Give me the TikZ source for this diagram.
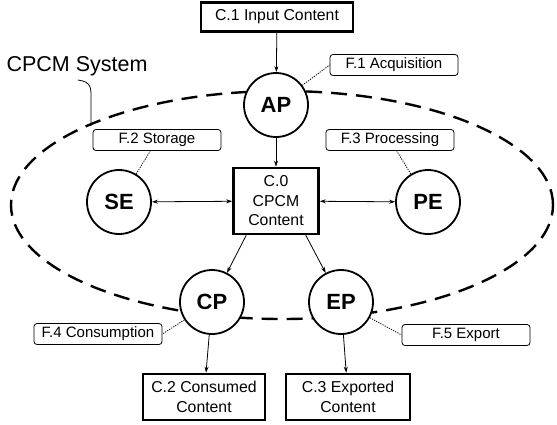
\documentclass[tikz,border=0pt]{standalone}
\usepackage{fontspec}
\setmainfont{Liberation Sans}
\usetikzlibrary{arrows.meta}
\begin{document}
\begin{tikzpicture}[x=1pt,y=-1pt,
  content/.style={draw,line width=2.6pt,fill=white,align=center,
    font=\fontsize{15.8}{19.5}\selectfont,inner sep=0pt},
  entity/.style={circle,draw,line width=1.8pt,fill=white,minimum size=64pt,
    inner sep=0pt,font=\fontsize{22}{24}\selectfont\bfseries},
  func/.style={draw,line width=0.8pt,rounded corners=3pt,fill=white,
    minimum width=128pt,minimum height=21pt,inner sep=0pt,
    font=\fontsize{15}{17}\selectfont},
  flow/.style={line width=0.8pt,-{Stealth[length=6pt,width=4pt]}},
  both/.style={line width=0.8pt,{Stealth[length=6pt,width=4pt]}-{Stealth[length=6pt,width=4pt]}},
  link/.style={line width=0.8pt,dash pattern=on 1.2pt off 1.2pt}
]
\useasboundingbox (0,0) rectangle (557,424);

% system boundary
\draw[line width=2.4pt,dash pattern=on 16pt off 9pt] (282,205) ellipse [x radius=271pt,y radius=114pt];

% content items
\node[content,minimum width=152pt,minimum height=29pt] (c1) at (277,17) {C.1 Input Content};
\node[content,minimum width=85pt,minimum height=66pt] (c0) at (276,201) {C.0\\CPCM\\Content};
\node[content,minimum width=122pt,minimum height=46pt] (c2) at (204,397) {C.2 Consumed\\Content};
\node[content,minimum width=124pt,minimum height=46pt] (c3) at (348,397) {C.3 Exported\\Content};

% entities
\node[entity] (ap) at (276,105) {AP};
\node[entity] (se) at (119,202) {SE};
\node[entity] (pe) at (428,202) {PE};
\node[entity] (cp) at (212,302) {CP};
\node[entity] (ep) at (341,302) {EP};

% functions
\node[func] (f1) at (394,65) {F.1 Acquisition};
\node[func] (f2) at (157,140) {F.2 Storage};
\node[func] (f3) at (390,140) {F.3 Processing};
\node[func] (f4) at (98,334) {F.4 Consumption};
\node[func] (f5) at (466,335) {F.5 Export};

% system label
\node[font=\fontsize{21.5}{24}\selectfont] (sys) at (77,66) {CPCM System};
\coordinate (sysend) at (91,126);
\draw[line width=0.8pt] (78,80) .. controls (92,82) and (91,88) .. (91,100) -- (sysend);

% flows
\draw[flow] (c1) -- (ap);
\draw[flow] (ap) -- (c0);
\draw[both] (se) -- (c0);
\draw[both] (c0) -- (pe);
\draw[flow] (c0.south west) ++(14,0) -- (cp);
\draw[flow] (c0.south east) ++(-14,0) -- (ep);
\draw[flow] (cp) -- (c2);
\draw[flow] (ep) -- (c3);

% function links
\draw[link] (ap) -- (f1.west);
\draw[link] (se) -- (f2);
\draw[link] (pe) -- (f3);
\draw[link] (cp) -- (f4.east);
\draw[link] (ep) -- (f5.west);
\end{tikzpicture}
\end{document}
